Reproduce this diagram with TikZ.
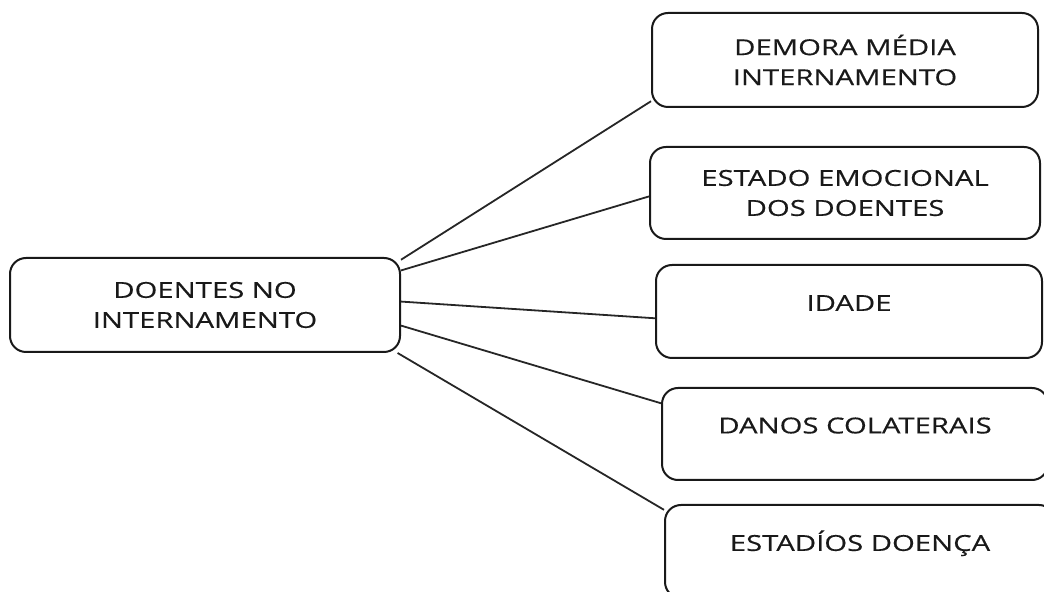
\documentclass[tikz,border=0pt]{standalone}
\usepackage{fontspec}
\setmainfont{Open Sans}[FakeStretch=1.33, FakeBold=0.4]

\tikzset{
  box/.style={draw=black!90, rounded corners=8pt, line width=1pt, inner sep=0pt,
    align=center, text=black!90, font=\fontsize{11}{15}\selectfont},
  single/.style={text height=5pt, text depth=5.6pt},
  link/.style={draw=black!85, line width=0.9pt}
}

\begin{document}
\begin{tikzpicture}[x=0.5pt, y=-0.5pt]
  \useasboundingbox (0,0) rectangle (1044,592);
  \clip (0,0) rectangle (1044,592);

  \node[box, minimum width=195pt, minimum height=47pt] (doentes) at (205,305) {DOENTES NO\\INTERNAMENTO};

  \node[box, minimum width=193pt, minimum height=47pt] (demora) at (845,60) {DEMORA MÉDIA\\INTERNAMENTO};
  \node[box, minimum width=195pt, minimum height=46pt] (estado) at (845,193) {ESTADO EMOCIONAL\\DOS DOENTES};
  \node[box, single, minimum width=193pt, minimum height=46.5pt] (idade) at (849,311.5) {IDADE};
  \node[box, single, minimum width=193pt, minimum height=46pt] (danos) at (855,434) {DANOS COLATERAIS};
  \node[box, single, minimum width=195pt, minimum height=46.5pt] (estadios) at (860,551.5) {ESTADÍOS DOENÇA};

  \draw[link] (doentes.13) -- (demora.192);
  \draw[link] (doentes.10) -- (estado.181);
  \draw[link] (doentes.1) -- (idade.182);
  \draw[link] (doentes.-6) -- (danos.171);
  \draw[link] (doentes.-14) -- (estadios.168);

\end{tikzpicture}
\end{document}
